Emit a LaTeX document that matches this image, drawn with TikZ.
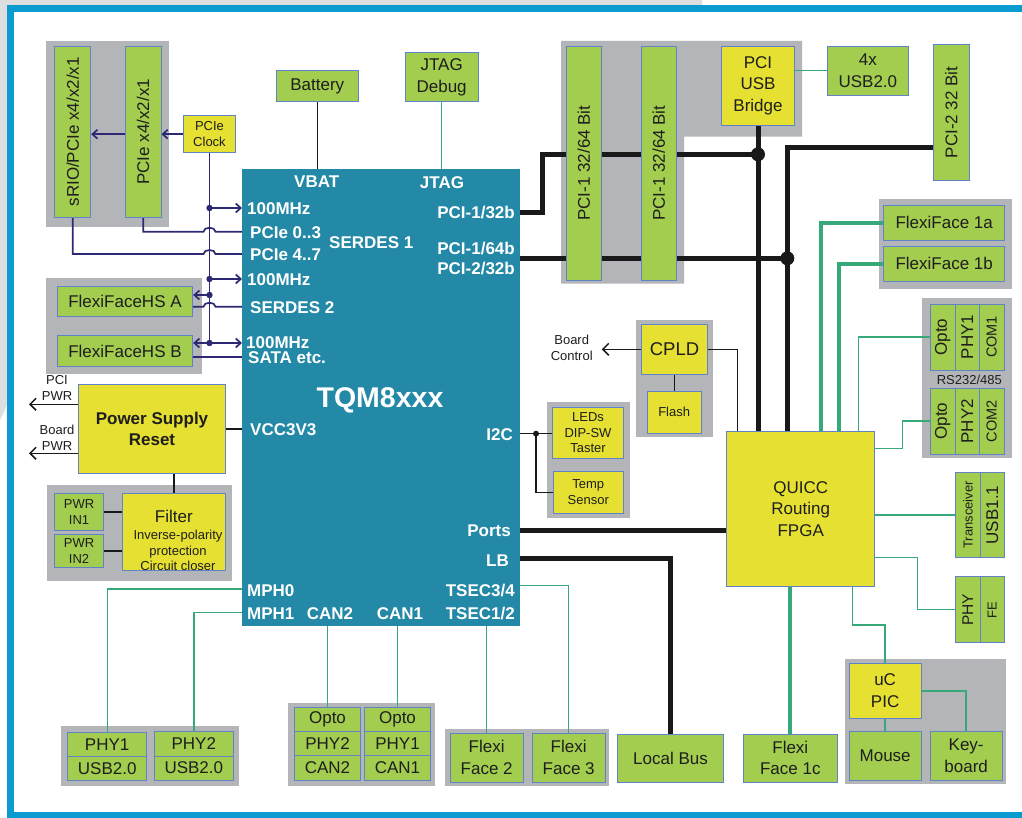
\documentclass[tikz,border=0pt]{standalone}
\usepackage{fontspec}
\setmainfont{Liberation Sans}
\usetikzlibrary{arrows.meta,calc}
\definecolor{cgreen}{RGB}{163,205,78}
\definecolor{cyellow}{RGB}{230,224,50}
\definecolor{cedge}{RGB}{95,130,200}
\definecolor{cgray}{RGB}{180,181,184}
\definecolor{cblue}{RGB}{35,137,167}
\definecolor{cnavy}{RGB}{45,40,115}
\definecolor{cline}{RGB}{55,168,120}
\definecolor{cframe}{RGB}{10,155,208}
\definecolor{cbg}{RGB}{221,222,224}
\definecolor{ctext}{RGB}{30,30,30}
\definecolor{cblack}{RGB}{25,25,25}
\newcommand{\myfsN}{\fontsize{17}{21.5}\selectfont}
\newcommand{\myfsS}{\fontsize{13}{15.6}\selectfont}
\newcommand{\mybox}[7]{\node[#1, minimum width={#5-#3}, minimum height={#6-#4}] (#2) at ({(#3+#5)/2},{(#4+#6)/2}) {#7};}
\pgfdeclarelayer{back}
\pgfdeclarelayer{lines}
\pgfsetlayers{back,lines,main}
\tikzset{
  grp/.style={fill=cgray},
  gbox/.style={fill=cgreen, draw=cedge, line width=0.9pt, inner sep=0pt, font=\myfsN, text=ctext, align=center},
  ybox/.style={gbox, fill=cyellow},
  smalltext/.style={font=\myfsS},
  rottext/.style={rotate=90, font=\myfsN, text=ctext, inner sep=0pt},
  wlbl/.style={text=white, font=\myfsN\bfseries, inner sep=0pt, text height=12.2pt, text depth=0pt},
  ptext/.style={text=ctext, font=\myfsS, inner sep=0pt, align=center},
  navyline/.style={draw=cnavy, line width=1.7pt},
  navyarrow/.style={navyline, -{Straight Barb[length=5pt,width=9pt]}},
  gline/.style={draw=cline, line width=1.4pt},
  gthick/.style={draw=cline, line width=4.3pt},
  bthick/.style={draw=cblack, line width=5pt},
  bthin/.style={draw=cblack, line width=1.5pt},
  barrow/.style={bthin, -{Straight Barb[length=6pt,width=12pt]}},
}
\begin{document}
\begin{tikzpicture}[x=1pt,y=-1pt]
\useasboundingbox (0,0) rectangle (1022,818);
\begin{pgfonlayer}{back}
\fill[white] (0,0) rectangle (1022,818);
\fill[cbg] (0,0) -- (702,0) -- (702,5) -- (7,5) -- (7,405) -- (0,420) -- cycle;
\draw[cframe, line width=7pt] (1030,8.7) -- (10,8.7) -- (10,815) -- (1030,815);
\fill[grp] (46,41) rectangle (169,227);
\fill[grp] (46,278) rectangle (202,374);
\fill[grp] (47,485) rectangle (232,581);
\fill[grp] (561,41) -- (802,41) -- (802,136.7) -- (684,136.7) -- (684,283.7) -- (561,283.7) -- cycle;
\fill[grp] (879,199) rectangle (1011.7,288.7);
\fill[grp] (636,320) rectangle (712.7,436.7);
\fill[grp] (547.3,402.3) rectangle (629.7,517.7);
\fill[grp] (922.3,298.3) rectangle (1011.7,458.3);
\fill[grp] (845,659) rectangle (1006,784);
\fill[grp] (445,729) rectangle (609,785.7);
\fill[grp] (288,703.3) rectangle (435,785.7);
\fill[grp] (61,726) rectangle (239,785.7);
\end{pgfonlayer}

% main module
\mybox{fill=cblue, inner sep=0pt}{tqm}{242}{169}{520}{626}{}
\node[wlbl] (lvbat) at (316.7,181.7) {VBAT};
\node[wlbl] (ljtag) at (442,182) {JTAG};
\node[wlbl, anchor=west] (lma) at (247,208) {100MHz};
\node[wlbl, anchor=west] (lpa) at (250,232) {PCIe 0..3};
\node[wlbl, anchor=west] (lpb) at (250,254) {PCIe 4..7};
\node[wlbl, anchor=west] (lsa) at (329,242) {SERDES 1};
\node[wlbl, anchor=east] (lpci1) at (515,212) {PCI-1/32b};
\node[wlbl, anchor=east] (lpci2) at (515,248) {PCI-1/64b};
\node[wlbl, anchor=east] (lpci3) at (515,268) {PCI-2/32b};
\node[wlbl, anchor=west] (lmb) at (247,279) {100MHz};
\node[wlbl, anchor=west] (lsb) at (250,307.7) {SERDES 2};
\node[wlbl, anchor=west] (lmc) at (246,342) {100MHz};
\node[wlbl, anchor=west] (lsata) at (248,357) {SATA etc.};
\node[wlbl, font=\fontsize{28.5}{30}\selectfont\bfseries, text height=20.4pt] (ltqm) at (380,397) {TQM8xxx};
\node[wlbl, anchor=west] (lvcc) at (250,429) {VCC3V3};
\node[wlbl, anchor=east] (li2c) at (513,434) {I2C};
\node[wlbl, anchor=east] (lports) at (511,530) {Ports};
\node[wlbl, anchor=east] (llb) at (509,560) {LB};
\node[wlbl, anchor=west] (lmph0) at (247,590) {MPH0};
\node[wlbl, anchor=west] (lmph1) at (247,613) {MPH1};
\node[wlbl] (lcan2) at (330,613) {CAN2};
\node[wlbl] (lcan1) at (400,613) {CAN1};
\node[wlbl, anchor=east] (ltsa) at (515,590) {TSEC3/4};
\node[wlbl, anchor=east] (ltsb) at (515,613) {TSEC1/2};

\coordinate (p100a) at (242,208);
\coordinate (p03) at (242,231.7);
\coordinate (p47) at (242,254);
\coordinate (p100b) at (242,279);
\coordinate (yA) at (0,295);
\coordinate (pser2) at (242,306.7);
\coordinate (p100c) at (242,343);
\coordinate (psata) at (242,356.7);
\coordinate (ppci1) at (520,212.3);
\coordinate (ppci2) at (520,258.3);
\coordinate (pi2c) at (520,433.7);
\coordinate (pports) at (520,530);
\coordinate (plb) at (520,558.3);
\coordinate (ptsec) at (520,585.7);
\coordinate (pmph0) at (242,589);
\coordinate (pmph1) at (242,612.7);

% top left
\mybox{gbox}{srio}{54.7}{46}{90.7}{217.7}{}
\node[rottext] (sriot) at (srio) {sRIO/PCIe x4/x2/x1};
\mybox{gbox}{pcie}{125.3}{46}{161}{217.7}{}
\node[rottext] (pciet) at (pcie) {PCIe x4/x2/x1};
\mybox{ybox,smalltext}{clk}{183.5}{115.7}{235.5}{152.7}{PCIe\\Clock}
\mybox{gbox}{ffa}{57.3}{286}{192.7}{316.7}{FlexiFaceHS A}
\mybox{gbox}{ffb}{57.3}{335.7}{192.7}{366.7}{FlexiFaceHS B}
\mybox{ybox,font=\myfsN\bfseries}{psu}{78.3}{384.3}{225.7}{473.3}{Power Supply\\Reset}
\node[ptext] (lpcipwr) at (57,388) {PCI\\PWR};
\node[ptext] (lboardpwr) at (57,438) {Board\\PWR};
\coordinate (pciout) at (29,404.3);
\coordinate (boardout) at (29,453.3);
\mybox{gbox,smalltext}{pin1}{54.3}{493.7}{103.7}{530}{PWR\\IN1}
\mybox{gbox,smalltext}{pin2}{54.3}{534.3}{103.7}{567.7}{PWR\\IN2}
\mybox{ybox}{filt}{122.3}{493.3}{225.3}{570}{}
\node[ptext, font=\myfsN] (filta) at (173.8,516.7) {Filter};
\node[ptext] (filtb) at (178,550.5) {Inverse-polarity\\protection\\Circuit closer};
\mybox{gbox}{bat}{276.3}{70.7}{358.3}{101.7}{Battery}
\mybox{gbox}{jtag}{405.3}{52.7}{478}{101.7}{JTAG\\Debug}

% top right
\mybox{gbox}{pcia}{566}{46.3}{601.7}{280}{}
\node[rottext] (pciat) at (pcia) {PCI-1 32/64 Bit};
\mybox{gbox}{pcibx}{641}{46.3}{676.7}{280}{}
\node[rottext] (pcibxt) at (pcibx) {PCI-1 32/64 Bit};
\mybox{ybox}{bridge}{721.3}{46.3}{794.7}{125}{PCI\\USB\\Bridge}
\mybox{gbox}{usbf}{827}{46.3}{908.7}{95}{4x\\USB2.0}
\mybox{gbox}{pcit}{933.3}{44.7}{969.3}{180}{}
\node[rottext] (pcitt) at (pcit) {PCI-2 32 Bit};
\mybox{gbox}{ffia}{883.7}{205}{1004.7}{240.7}{FlexiFace 1a}
\mybox{gbox}{ffib}{883.7}{246}{1004.7}{281.7}{FlexiFace 1b}

% middle
\mybox{ybox}{fpga}{726.7}{431.7}{874.7}{586}{QUICC\\Routing\\FPGA}
\mybox{ybox,font=\fontsize{18.5}{20}\selectfont}{cpld}{641.7}{324.3}{707.3}{374.3}{CPLD}
\mybox{ybox,smalltext}{flash}{647.3}{391.3}{701}{433.3}{Flash}
\node[ptext] (lbc) at (571.7,348) {Board\\Control};
\coordinate (bcout) at (601.7,349.3);
\mybox{ybox,smalltext}{leds}{552.7}{407}{623.3}{458.7}{LEDs\\DIP-SW\\Taster}
\mybox{ybox,smalltext}{temp}{553.3}{471.3}{623.3}{513.3}{Temp\\Sensor}

% RS232
\mybox{gbox}{optoa}{930.3}{304}{955}{370}{}
\mybox{gbox}{phya}{955}{304}{979.3}{370}{}
\mybox{gbox}{coma}{979.3}{304}{1004}{370}{}
\node[rottext] (optoat) at (optoa) {Opto};
\node[rottext] (phyat) at (phya) {PHY1};
\node[rottext, font=\fontsize{14.5}{16}\selectfont] (comat) at (coma) {COM1};
\node[ptext] (lrs) at (969.3,380) {RS232/485};
\mybox{gbox}{optob}{930.3}{388.3}{955}{454}{}
\mybox{gbox}{phyb}{955}{388.3}{979.3}{454}{}
\mybox{gbox}{comb}{979.3}{388.3}{1004}{454}{}
\node[rottext] (optobt) at (optob) {Opto};
\node[rottext] (phybt) at (phyb) {PHY2};
\node[rottext, font=\fontsize{14.5}{16}\selectfont] (combt) at (comb) {COM2};
\mybox{gbox}{trans}{955.7}{472.3}{980}{557.7}{}
\mybox{gbox}{usbo}{980}{472.3}{1004.3}{557.7}{}
\node[rottext, font=\myfsS] (transt) at (trans) {Transceiver};
\node[rottext] (usbot) at (usbo) {USB1.1};
\mybox{gbox}{phyfe}{955.7}{576.7}{980}{642.7}{}
\mybox{gbox}{fe}{980}{576.7}{1004.3}{642.7}{}
\node[rottext, font=\fontsize{15.5}{17}\selectfont] (phyfet) at (phyfe) {PHY};
\node[rottext, font=\myfsS] (fet) at (fe) {FE};

% bottom
\mybox{gbox}{ffic}{743.3}{734}{837.3}{782.3}{Flexi\\Face 1c}
\mybox{gbox}{localbus}{617.7}{734}{723.3}{782.3}{Local Bus}
\mybox{ybox}{uc}{849.3}{663.3}{921}{718.3}{uC\\PIC}
\mybox{gbox}{mouse}{849.3}{731.7}{921}{780}{Mouse}
\mybox{gbox}{kb}{930}{731.7}{1002.3}{780}{Key-\\board}
\mybox{gbox}{fftwo}{450}{733.3}{523.3}{782}{Flexi\\Face 2}
\mybox{gbox}{ffthree}{532}{733.3}{605.3}{782}{Flexi\\Face 3}
\mybox{gbox}{optoc}{294.3}{707.3}{360.7}{731.7}{Opto}
\mybox{gbox}{phyc}{294.3}{731.7}{360.7}{755.7}{PHY2}
\mybox{gbox}{canb}{294.3}{755.7}{360.7}{780}{CAN2}
\mybox{gbox}{optod}{364.3}{707.3}{430.7}{731.7}{Opto}
\mybox{gbox}{phyd}{364.3}{731.7}{430.7}{755.7}{PHY1}
\mybox{gbox}{cana}{364.3}{755.7}{430.7}{780}{CAN1}
\mybox{gbox}{phyu}{67.7}{732}{146.7}{756.3}{PHY1}
\mybox{gbox}{usbu}{67.7}{756.3}{146.7}{780.7}{USB2.0}
\mybox{gbox}{phyv}{154.3}{731.3}{233.3}{756}{PHY2}
\mybox{gbox}{usbv}{154.3}{756}{233.3}{780}{USB2.0}

\begin{pgfonlayer}{lines}
% navy serdes wiring
\draw[navyarrow] (clk.west) -- (pcie.east |- clk.west);
\draw[navyarrow] (pcie.west |- clk.west) -- (srio.east |- clk.west);
\draw[navyline] (clk.south) -- (clk.south |- p100c);
\draw[navyarrow] (clk.south |- p100a) -- (p100a);
\draw[navyline] (pcie.south) |- ($(clk.south |- p03)+(-6,0)$) .. controls +(0,-5.3) and +(0,-5.3) .. ($(clk.south |- p03)+(6,0)$) -- (p03);
\draw[navyline] (srio.south) |- ($(clk.south |- p47)+(-6,0)$) .. controls +(0,-5.3) and +(0,-5.3) .. ($(clk.south |- p47)+(6,0)$) -- (p47);
\draw[navyarrow] (clk.south |- p100b) -- (p100b);
\draw[navyarrow] (clk.south |- yA) -- (ffa.east |- yA);
\draw[navyline] (ffa.east |- pser2) -- ($(clk.south |- pser2)+(-6,0)$) .. controls +(0,-5.3) and +(0,-5.3) .. ($(clk.south |- pser2)+(6,0)$) -- (pser2);
\draw[navyarrow] (clk.south |- p100c) -- (p100c);
\draw[navyarrow] (clk.south |- p100c) -- (ffb.east |- p100c);
\draw[navyline] (ffb.east |- psata) -- (psata);
\foreach \c in {p100a,p100b,yA,p100c} \fill[cnavy] (clk.south |- \c) circle (3.2pt);

% power
\draw[bthin] (bat.south) -- (bat.south |- tqm.north);
\draw[gline] (jtag.south) -- (jtag.south |- tqm.north);
\draw[bthin] (psu.east) -- (tqm.west |- psu.east);
\draw[barrow] (psu.west |- pciout) -- (pciout);
\draw[barrow] (psu.west |- boardout) -- (boardout);
\draw[bthin] (filt.north |- psu.south) -- (filt.north);
\draw[bthin] (pin1.east) -- (filt.west |- pin1.east);
\draw[bthin] (pin2.east) -- (filt.west |- pin2.east);

% PCI buses
\coordinate (ybus) at (0,154.3);
\coordinate (ytop) at (0,147.7);
\coordinate (xv) at (787.3,0);
\draw[bthick] (ppci1) -- ++(22.7,0) |- (bridge.south |- ybus);
\draw[bthick] (bridge.south) -- (bridge.south |- fpga.north);
\draw[bthick] (ppci2) -- (xv |- ppci2);
\draw[bthick] (pcit.west |- ytop) -| (xv |- fpga.north);
\fill[cblack] (bridge.south |- ybus) circle (7pt);
\fill[cblack] (xv |- ppci2) circle (7pt);
\draw[gline] (usbf.west) -- (bridge.east |- usbf.west);

% FlexiFace 1a/1b
\coordinate (xga) at (820.7,0);
\coordinate (xgb) at (839.3,0);
\draw[gthick] (ffia.west) -| (xga |- fpga.north);
\draw[gthick] (ffib.west) -| (xgb |- fpga.north);

% CPLD
\coordinate (xc) at (737.3,0);
\draw[bthin] (cpld.south) -- (cpld.south |- flash.north);
\draw[bthin] (cpld.east) -| (xc |- fpga.north);
\draw[barrow] (cpld.west) -- (bcout);

% I2C, ports, LB
\coordinate (xi) at (536,0);
\draw[bthin] (pi2c) -- (leds.west |- pi2c);
\draw[bthin] (xi |- pi2c) |- (temp.west);
\fill[cblack] (xi |- pi2c) circle (3pt);
\draw[bthick] (pports) -- (fpga.west |- pports);
\draw[bthick] (plb) -| (localbus.north);

% right side
\coordinate (xra) at (858.3,0);
\coordinate (yrb) at (0,448.3);
\coordinate (xrb) at (902.3,0);
\draw[gline] (xra |- fpga.north) |- (optoa.west);
\draw[gline] (fpga.east |- yrb) -| (xrb |- optob.west) -- (optob.west);
\draw[gline] (fpga.east |- trans.west) -- (trans.west);
\coordinate (yp) at (0,557.3);
\coordinate (xp) at (917.3,0);
\draw[gline] (fpga.east |- yp) -| (xp |- phyfe.west) -- (phyfe.west);

% bottom
\draw[gthick] (ffic.north |- fpga.south) -- (ffic.north);
\coordinate (xu) at (852.7,0);
\coordinate (yu) at (0,625);
\draw[gline] (xu |- fpga.south) |- (uc.north |- yu) -- (uc.north);
\draw[gline] (uc.south) -- (mouse.north);
\draw[gline] (uc.east) -| (kb.north);
\draw[gline] (fftwo.north |- tqm.south) -- (fftwo.north);
\draw[gline] (ptsec) -| (ffthree.north);
\draw[gline] (optoc.north |- tqm.south) -- (optoc.north);
\draw[gline] (optod.north |- tqm.south) -- (optod.north);
\draw[gline] (pmph0) -| (phyu.north);
\draw[gline] (pmph1) -| (phyv.north);
\end{pgfonlayer}
\end{tikzpicture}
\end{document}
